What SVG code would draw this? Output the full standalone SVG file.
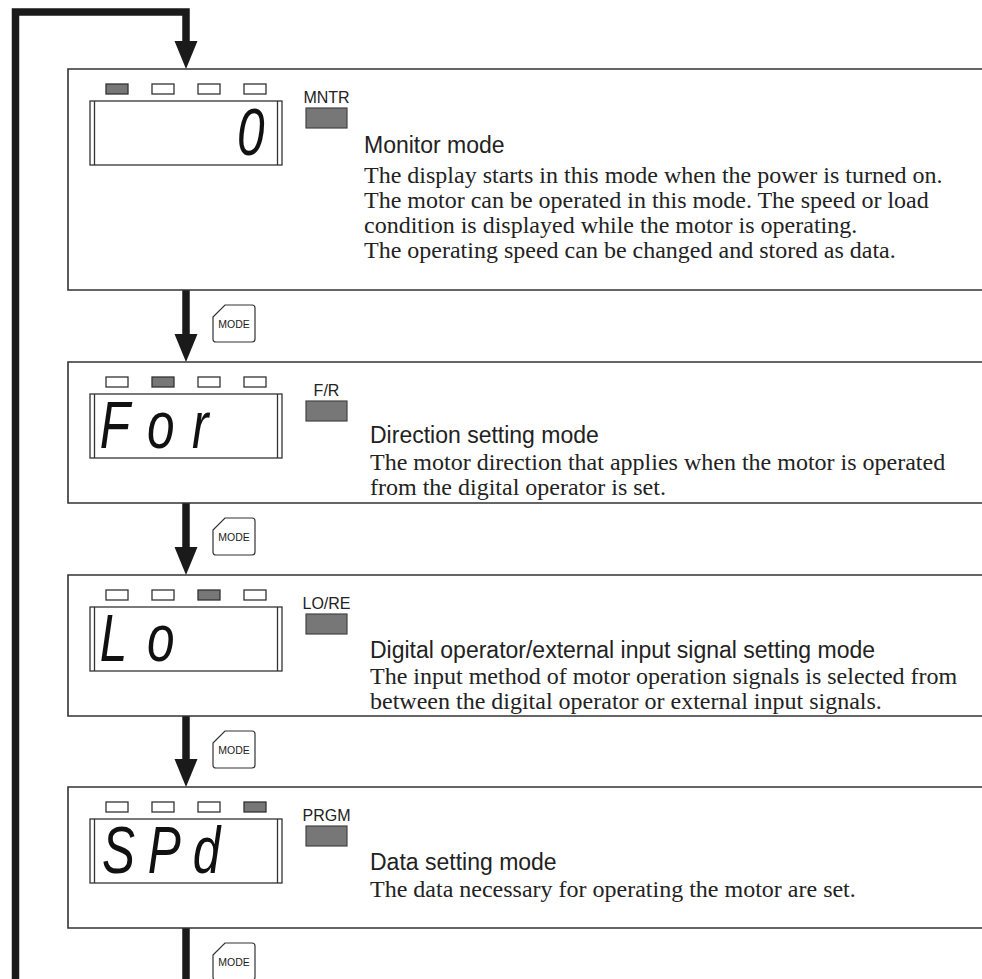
<svg xmlns="http://www.w3.org/2000/svg" width="982" height="979" viewBox="0 0 982 979">
<style>
.box{fill:none;stroke:#333;stroke-width:1.6}
.led{fill:#fff;stroke:#333;stroke-width:1.3}
.led.on{fill:#777}
.disp{fill:none;stroke:#333;stroke-width:1.3}
.gbtn{fill:#777;stroke:#444;stroke-width:1.2}
.lbl{font-family:"Liberation Sans",Arial,sans-serif;font-size:16px;fill:#222;text-anchor:middle}
.title{font-family:"Liberation Sans",Arial,sans-serif;font-size:23px;fill:#222}
.body{font-family:"Liberation Serif","Times New Roman",serif;font-size:24px;fill:#222}
.seg{font-family:"Liberation Sans",Arial,sans-serif;font-style:italic;font-size:66px;fill:#111}
.mode{fill:#fff;stroke:#333;stroke-width:1.2}
.modet{font-family:"Liberation Sans",Arial,sans-serif;font-size:10.5px;fill:#222;text-anchor:middle}
.flow{fill:none;stroke:#1a1a1a;stroke-width:7.5}
.head{fill:#1a1a1a}
</style>
<defs>
<path id="modebtn" d="M0,12 L12,0 L39,0 Q42,0 42,3 L42,34 Q42,37 39,37 L3,37 Q0,37 0,34 Z"/>
</defs>

<g id="connectors">
<path class="flow" d="M186,928 V983 H15.5 V12 H186 V42"/>
<polygon class="head" points="174.5,41 197.5,41 186,69"/>
<line class="flow" x1="186" y1="290" x2="186" y2="335"/>
<polygon class="head" points="174.5,334 197.5,334 186,362"/>
<line class="flow" x1="186" y1="503" x2="186" y2="548"/>
<polygon class="head" points="174.5,547 197.5,547 186,575"/>
<line class="flow" x1="186" y1="716" x2="186" y2="760"/>
<polygon class="head" points="174.5,759 197.5,759 186,787"/>
</g>

<g id="mode-buttons">
<g transform="translate(213,305)"><use href="#modebtn" class="mode"/><text class="modet" x="21" y="23">MODE</text></g>
<g transform="translate(213,518)"><use href="#modebtn" class="mode"/><text class="modet" x="21" y="23">MODE</text></g>
<g transform="translate(213,731)"><use href="#modebtn" class="mode"/><text class="modet" x="21" y="23">MODE</text></g>
<g transform="translate(213,943)"><use href="#modebtn" class="mode"/><text class="modet" x="21" y="23">MODE</text></g>
</g>

<g id="monitor-mode">
<path class="box" d="M983,69 H68 V290 H983"/>
<rect class="led on" x="106" y="84" width="22" height="10"/>
<rect class="led" x="152" y="84" width="22" height="10"/>
<rect class="led" x="198" y="84" width="22" height="10"/>
<rect class="led" x="244" y="84" width="22" height="10"/>
<rect class="disp" x="90" y="101" width="192" height="64"/>
<line class="disp" x1="94.5" y1="101" x2="94.5" y2="165"/>
<line class="disp" x1="277.5" y1="101" x2="277.5" y2="165"/>
<text class="seg" transform="translate(0,155) scale(0.75 1)" x="316">0</text>
<text class="lbl" x="326.5" y="103">MNTR</text>
<rect class="gbtn" x="306" y="108" width="41" height="20"/>
<text class="title" x="364" y="153">Monitor mode</text>
<text class="body" x="364" y="183">The display starts in this mode when the power is turned on.</text>
<text class="body" x="364" y="208">The motor can be operated in this mode. The speed or load</text>
<text class="body" x="364" y="233">condition is displayed while the motor is operating.</text>
<text class="body" x="364" y="258">The operating speed can be changed and stored as data.</text>
</g>

<g id="direction-mode">
<path class="box" d="M983,362 H68 V503 H983"/>
<rect class="led" x="106" y="377" width="22" height="10"/>
<rect class="led on" x="152" y="377" width="22" height="10"/>
<rect class="led" x="198" y="377" width="22" height="10"/>
<rect class="led" x="244" y="377" width="22" height="10"/>
<rect class="disp" x="90" y="394" width="192" height="64"/>
<line class="disp" x1="94.5" y1="394" x2="94.5" y2="458"/>
<line class="disp" x1="277.5" y1="394" x2="277.5" y2="458"/>
<text class="seg" transform="translate(0,448) scale(0.75 1)" x="133 196 256">For</text>
<text class="lbl" x="326.5" y="396">F/R</text>
<rect class="gbtn" x="306" y="401" width="41" height="20"/>
<text class="title" x="370" y="443">Direction setting mode</text>
<text class="body" x="370" y="470">The motor direction that applies when the motor is operated</text>
<text class="body" x="370" y="495">from the digital operator is set.</text>
</g>

<g id="lore-mode">
<path class="box" d="M983,575 H68 V716 H983"/>
<rect class="led" x="106" y="590" width="22" height="10"/>
<rect class="led" x="152" y="590" width="22" height="10"/>
<rect class="led on" x="198" y="590" width="22" height="10"/>
<rect class="led" x="244" y="590" width="22" height="10"/>
<rect class="disp" x="90" y="607" width="192" height="64"/>
<line class="disp" x1="94.5" y1="607" x2="94.5" y2="671"/>
<line class="disp" x1="277.5" y1="607" x2="277.5" y2="671"/>
<text class="seg" transform="translate(0,661) scale(0.75 1)" x="133 196">Lo</text>
<text class="lbl" x="326.5" y="609">LO/RE</text>
<rect class="gbtn" x="306" y="614" width="41" height="20"/>
<text class="title" x="370" y="658">Digital operator/external input signal setting mode</text>
<text class="body" x="370" y="684">The input method of motor operation signals is selected from</text>
<text class="body" x="370" y="709">between the digital operator or external input signals.</text>
</g>

<g id="data-mode">
<path class="box" d="M983,787 H68 V928 H983"/>
<rect class="led" x="106" y="802" width="22" height="10"/>
<rect class="led" x="152" y="802" width="22" height="10"/>
<rect class="led" x="198" y="802" width="22" height="10"/>
<rect class="led on" x="244" y="802" width="22" height="10"/>
<rect class="disp" x="90" y="819" width="192" height="64"/>
<line class="disp" x1="94.5" y1="819" x2="94.5" y2="883"/>
<line class="disp" x1="277.5" y1="819" x2="277.5" y2="883"/>
<text class="seg" transform="translate(0,873) scale(0.75 1)" x="136 197 257">SPd</text>
<text class="lbl" x="326.5" y="821">PRGM</text>
<rect class="gbtn" x="306" y="826" width="41" height="20"/>
<text class="title" x="370" y="870">Data setting mode</text>
<text class="body" x="370" y="897">The data necessary for operating the motor are set.</text>
</g>
</svg>
